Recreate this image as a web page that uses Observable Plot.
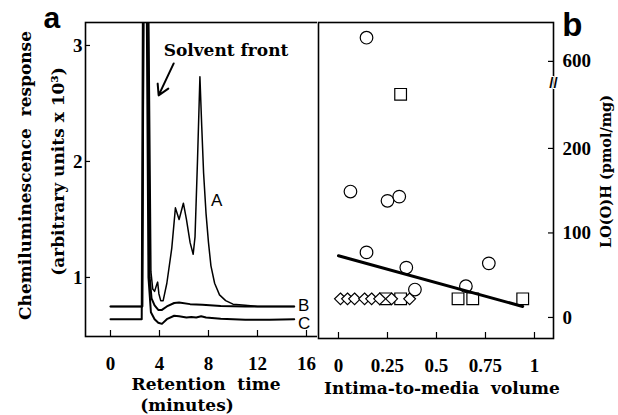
<!DOCTYPE html>
<html><head><meta charset="utf-8">
<script src="https://cdn.jsdelivr.net/npm/d3@7"></script>
<script src="https://cdn.jsdelivr.net/npm/@observablehq/plot@0.6"></script>
<style>
html,body{margin:0;padding:0;background:#fff;}
#wrap{position:relative;width:618px;height:415px;overflow:hidden;background:#fff;}
#pa{position:absolute;left:0;top:0;}
#pb{position:absolute;left:317px;top:0;}
</style></head><body><div id="wrap"><div id="pa"></div><div id="pb"></div></div>
<script>
// ---------- Panel a: chromatograms ----------
const timeA = [0, 2.6, 2.72, 3.1, 3.3, 3.45, 3.6, 3.75, 3.85, 3.95, 4.1, 4.3, 4.6, 5.0, 5.3, 5.45, 5.6, 5.95, 6.2, 6.5, 6.75, 6.9, 7.1, 7.3, 7.45, 7.6, 7.8, 8.0, 8.2, 8.5, 8.9, 9.4, 10, 11, 12, 15];
const respA = [0.75, 0.75, 3.5, 3.5, 1.05, 0.9, 0.88, 0.93, 0.96, 0.86, 0.8, 0.8, 0.95, 1.25, 1.6, 1.55, 1.5, 1.64, 1.5, 1.3, 1.2, 1.35, 2.0, 2.73, 2.3, 1.9, 1.55, 1.3, 1.1, 0.95, 0.85, 0.8, 0.77, 0.76, 0.75, 0.75];
const timeB = [0, 2.6, 2.7, 3.05, 3.2, 3.35, 3.6, 3.9, 4.2, 4.6, 5.2, 5.6, 6.5, 7.5, 9, 11, 15];
const respB = [0.75, 0.75, 3.5, 3.5, 1.0, 0.82, 0.76, 0.72, 0.72, 0.75, 0.78, 0.785, 0.77, 0.765, 0.755, 0.75, 0.75];
const timeC = [0, 2.55, 2.65, 2.95, 3.1, 3.3, 3.6, 3.9, 4.2, 4.6, 5.2, 5.6, 6.2, 6.6, 7.0, 7.4, 7.8, 9, 11, 13, 15];
const respC = [0.64, 0.64, 3.5, 3.5, 1.0, 0.7, 0.64, 0.61, 0.6, 0.64, 0.67, 0.665, 0.655, 0.66, 0.655, 0.665, 0.655, 0.645, 0.635, 0.635, 0.64];
const xTicksA = [0, 4, 8, 12, 16];
const yTicksA = [1, 2, 3];
const curveLabels = ["A", "B", "C"];
const curveLabelX = [8.2, 15.3, 15.3];
const curveLabelY = [1.66, 0.755, 0.6];
const solventText = ["Solvent front"];
const solventPos = [9.43, 2.957];
const arrowFrom = [5.16, 2.845];
const arrowTo = [3.93, 2.57];

// ---------- Panel b: scatter ----------
const circleX = [0.143, 0.061, 0.25, 0.31, 0.143, 0.346, 0.39, 0.65, 0.767];
const circleY = [628, 149, 138, 143, 77, 59, 33, 37, 64];
const squareX = [0.317, 0.24, 0.317, 0.61, 0.685, 0.94];
const squareY = [264, 22, 22, 22, 22, 22];
const diamondX = [0.01, 0.046, 0.082, 0.133, 0.169, 0.21, 0.271, 0.363];
const diamondY = [22, 22, 22, 22, 22, 22, 22, 22];
const fitX = [0, 0.94];
const fitY = [73, 13];
const xTicksB = [0, 0.25, 0.5, 0.75, 1];
const yTicksB = [0, 100, 200, 600];
const yBreak = [277];          // where the axis is broken
const yGap = 297;              // amount of the axis removed above the break

const zip = (xs, ys) => xs.map((x, i) => ({x, y: ys[i]}));
const wordFont = "'DejaVu Serif', serif";
const numFont = "'Liberation Serif', serif";
const sansFont = "'Liberation Sans', Arial, sans-serif";

const plotA = Plot.plot({
  width: 319, height: 415,
  marginLeft: 85, marginRight: 1, marginTop: 22, marginBottom: 79,
  x: {domain: [-2.04, 16.98]},
  y: {domain: [0.491, 3.198]},
  style: {background: "white", color: "black", overflow: "visible"},
  marks: [
    Plot.line(zip(timeC, respC), {x: "x", y: "y", stroke: "black", strokeWidth: 2, clip: true}),
    Plot.line(zip(timeB, respB), {x: "x", y: "y", stroke: "black", strokeWidth: 2, clip: true}),
    Plot.line(zip(timeA, respA), {x: "x", y: "y", stroke: "black", strokeWidth: 1.5, clip: true}),
    Plot.tickX(xTicksA, {x: d => d, insetTop: 308, stroke: "black", strokeWidth: 1.2}),
    Plot.tickY(yTicksA, {y: d => d, insetRight: 228, stroke: "black", strokeWidth: 1.2}),
    Plot.frame({stroke: "black", strokeWidth: 1.6}),
    Plot.axisX(xTicksA, {tickSize: 0, tickPadding: 20, label: null, tickFormat: d => String(d), fontSize: 19, fontWeight: "bold", fontFamily: numFont}),
    Plot.axisY(yTicksA, {tickSize: 0, tickPadding: 3, label: null, tickFormat: d => String(d), fontSize: 19, fontWeight: "bold", fontFamily: numFont}),
    Plot.text(solventText, {x: () => solventPos[0], y: () => solventPos[1], text: d => d, fontSize: 17, fontWeight: "bold", fontFamily: wordFont}),
    Plot.arrow([0], {x1: () => arrowFrom[0], y1: () => arrowFrom[1], x2: () => arrowTo[0], y2: () => arrowTo[1], stroke: "black", strokeWidth: 2, headLength: 12}),
    Plot.text(curveLabels, {x: (d, i) => curveLabelX[i], y: (d, i) => curveLabelY[i], text: d => d, textAnchor: "start", fontSize: 17, fontFamily: sansFont}),
    Plot.text(["Chemiluminescence  response"], {frameAnchor: "left", textAnchor: "middle", lineAnchor: "middle", text: d => d, rotate: -90, dx: -60, dy: -4, fontSize: 17, fontWeight: "bold", fontFamily: wordFont}),
    Plot.text(["(arbitrary units x 10³)"], {frameAnchor: "left", textAnchor: "middle", lineAnchor: "middle", text: d => d, rotate: -90, dx: -27, dy: -8, fontSize: 17, fontWeight: "bold", fontFamily: wordFont}),
    Plot.text(["Retention  time"], {frameAnchor: "bottom", text: d => d, dx: 4, dy: 53, fontSize: 17, fontWeight: "bold", fontFamily: wordFont}),
    Plot.text(["(minutes)"], {frameAnchor: "bottom", text: d => d, dx: -15, dy: 74, fontSize: 17, fontWeight: "bold", fontFamily: wordFont}),
    Plot.text(["a"], {frameAnchor: "top-left", textAnchor: "start", text: d => d, dx: -42, dy: 5, lineAnchor: "bottom", fontSize: 30, fontWeight: "bold", fontFamily: sansFont})
  ]
});
document.getElementById("pa").appendChild(plotA);

const plotB = Plot.plot({
  width: 301, height: 415,
  marginLeft: 1, marginRight: 65, marginTop: 22, marginBottom: 77,
  x: {domain: [-0.102, 1.097]},
  y: {domain: [-24.9, 349], transform: v => (v > 400 ? v - yGap : v)},
  style: {background: "white", color: "black", overflow: "visible"},
  marks: [
    Plot.tickX(xTicksB, {x: d => d, insetTop: 310, stroke: "black", strokeWidth: 1.2}),
    Plot.tickY(yTicksB, {y: d => d, insetLeft: 230, stroke: "black", strokeWidth: 1.2}),
    Plot.dot(zip(circleX, circleY), {x: "x", y: "y", symbol: "circle", r: 6.3, fill: "white", stroke: "black", strokeWidth: 1.2}),
    Plot.dot(zip(squareX, squareY), {x: "x", y: "y", symbol: "square", r: 6.6, fill: "white", stroke: "black", strokeWidth: 1.2}),
    Plot.dot(zip(diamondX, diamondY), {x: "x", y: "y", symbol: "diamond2", r: 5.3, fill: "white", stroke: "black", strokeWidth: 1.2}),
    Plot.line(zip(fitX, fitY), {x: "x", y: "y", stroke: "black", strokeWidth: 3}),
    Plot.frame({stroke: "black", strokeWidth: 1.6}),
    Plot.text(yBreak, {y: d => d, frameAnchor: "right", textAnchor: "middle", text: () => "//", fontSize: 15, fontWeight: "bold", fontFamily: sansFont, stroke: "white", strokeWidth: 2, paintOrder: "stroke", fill: "black"}),
    Plot.axisX(xTicksB, {tickSize: 0, tickPadding: 20, label: null, tickFormat: d => String(d), fontSize: 19, fontWeight: "bold", fontFamily: numFont}),
    Plot.axisY(yTicksB, {anchor: "right", tickSize: 0, tickPadding: 9, label: null, tickFormat: d => String(d), fontSize: 19, fontWeight: "bold", fontFamily: numFont}),
    Plot.text(["Intima-to-media  volume"], {frameAnchor: "bottom", text: d => d, dx: 6, dy: 55, fontSize: 17, fontWeight: "bold", fontFamily: wordFont}),
    Plot.text(["LO(O)H (pmol/mg)"], {frameAnchor: "right", textAnchor: "middle", lineAnchor: "middle", text: d => d, rotate: -90, dx: 53, dy: -9, fontSize: 14.5, fontWeight: "bold", fontFamily: wordFont}),
    Plot.text(["b"], {frameAnchor: "top-right", textAnchor: "end", text: d => d, dx: 29, dy: 13, lineAnchor: "bottom", fontSize: 33, fontWeight: "bold", fontFamily: sansFont})
  ]
});
document.getElementById("pb").appendChild(plotB);
</script>
</body></html>
